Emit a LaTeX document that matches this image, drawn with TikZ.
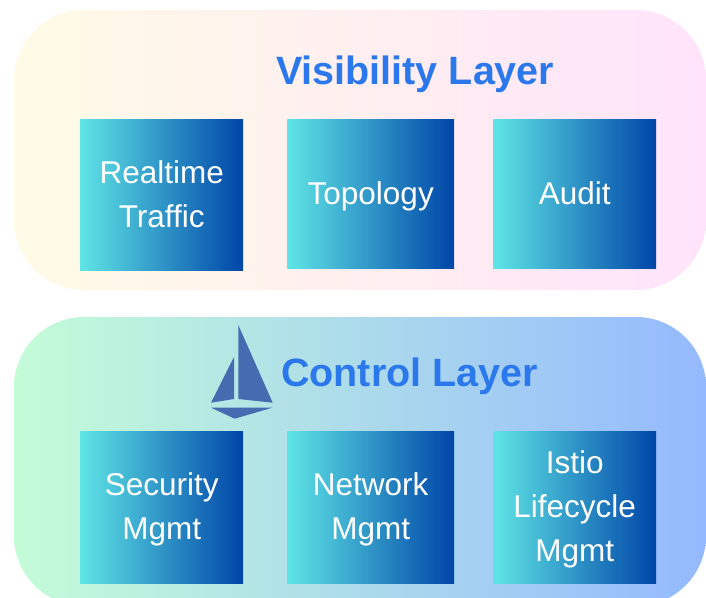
\documentclass[tikz,border=0pt]{standalone}
\usepackage{fontspec}
\setmainfont{Liberation Sans}
\usetikzlibrary{positioning}
\definecolor{titleblue}{HTML}{2B78EC}
\definecolor{sailblue}{HTML}{466BB0}
\definecolor{boxleft}{HTML}{5FE5E6}
\definecolor{boxright}{HTML}{0045A8}
\definecolor{visleft}{HTML}{FFFBE6}
\definecolor{visright}{HTML}{FFE3FB}
\definecolor{ctrlleft}{HTML}{C4FCD8}
\definecolor{ctrlright}{HTML}{95B9FE}
\newcommand{\boxline}{\rule[-11.5pt]{0pt}{44pt}}
\tikzset{
  x=1pt,y=-1pt,
  panel/.style={rounded corners=70pt,inner sep=0pt,line width=0pt,anchor=north west},
  visibilitypanel/.style={panel,left color=visleft,right color=visright},
  controlpanel/.style={panel,left color=ctrlleft,right color=ctrlright},
  layerbox/.style={inner sep=0pt,anchor=north west,align=center,text=white,left color=boxleft,right color=boxright,
    font=\fontsize{31.5}{44}\selectfont},
  layertitle/.style={anchor=base west,inner sep=0pt,text=titleblue,font=\fontsize{39.5}{48}\selectfont\bfseries}
}
\begin{document}
\begin{tikzpicture}
\useasboundingbox (0,0) rectangle (706,597);
\draw(14,10) node[visibilitypanel,minimum width=692pt,minimum height=280pt](visibility){};
\draw(14,317) node[controlpanel,minimum width=692pt,minimum height=289pt](control){};
\draw(276,84) node[layertitle](visibilitytitle){Visibility Layer};
\draw(281,386) node[layertitle](controltitle){Control Layer};
\draw(80,119) node[layerbox,minimum width=163pt,minimum height=151pt](realtime){Realtime\boxline\\Traffic\boxline};
\draw(287,119) node[layerbox,minimum width=167pt,minimum height=149pt](topology){Topology\boxline};
\draw(493,119) node[layerbox,minimum width=163pt,minimum height=149pt](audit){Audit\boxline};
\draw(80,431) node[layerbox,minimum width=163pt,minimum height=152pt](security){Security\boxline\\Mgmt\boxline};
\draw(287,431) node[layerbox,minimum width=167pt,minimum height=152pt](network){Network\boxline\\Mgmt\boxline};
\draw(493,431) node[layerbox,minimum width=163pt,minimum height=152pt](lifecycle){Istio\boxline\\Lifecycle\boxline\\Mgmt\boxline};
\fill[sailblue](238.3,325)--(272.7,402.7)--(238.3,399)--cycle;
\fill[sailblue](234,357)--(234,399)--(211,402.7)--cycle;
\fill[sailblue](211,407.7)--(272.3,407.7)--(234.7,418.7)--cycle;
\end{tikzpicture}
\end{document}
